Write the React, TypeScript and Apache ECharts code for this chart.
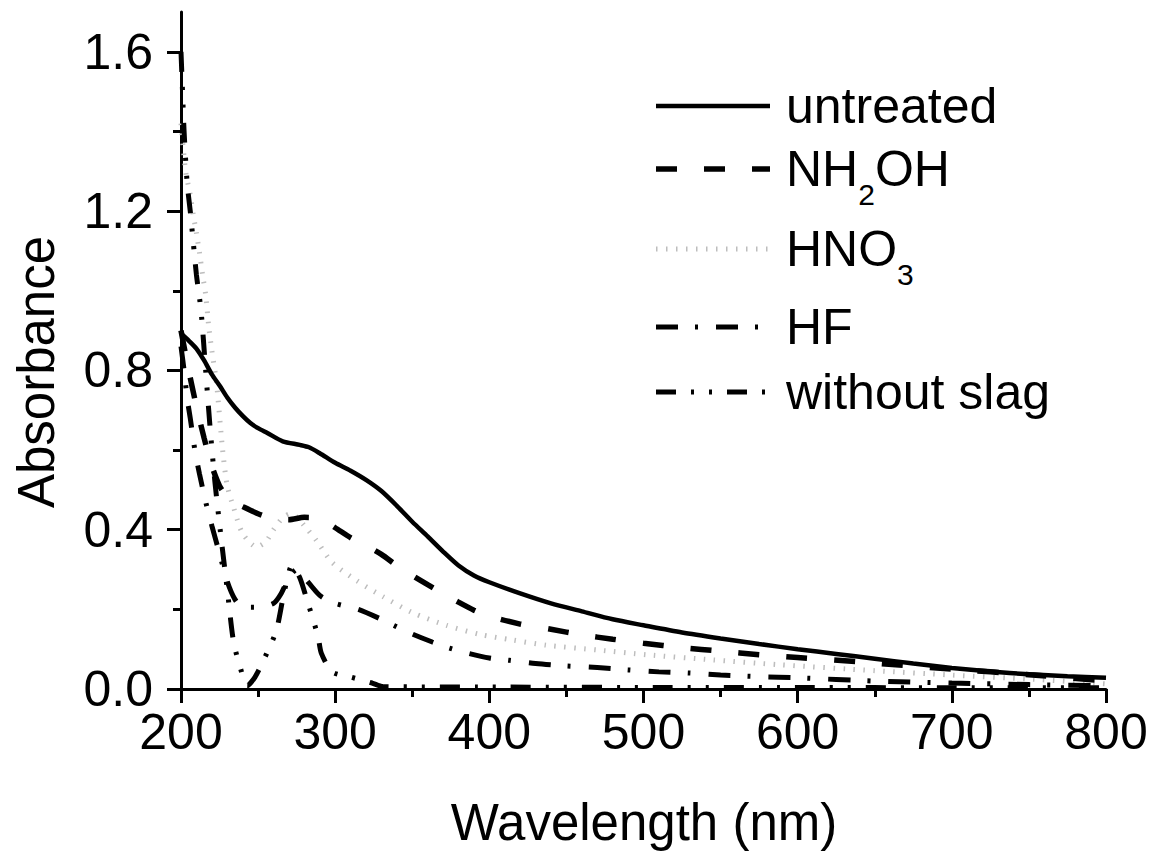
import React, { useEffect, useRef } from "react";
import * as echarts from "echarts";

// ---- data ----
const xTicks = [200, 300, 400, 500, 600, 700, 800];
const yTicks = [0, 0.4, 0.8, 1.2, 1.6];
const yMinorTicks = [0.2, 0.6, 1.0, 1.4];

const seriesNames = ["untreated", "NH2OH", "HNO3", "HF", "without slag"];

const untreatedX = [200, 205, 210, 215, 220, 225, 230, 235, 240, 245, 250, 256, 266, 277, 283, 290, 300, 310, 320, 330, 340, 350, 360, 370, 380, 390, 400, 420, 440, 460, 480, 500, 525, 550, 575, 600, 625, 650, 675, 700, 725, 750, 775, 800];
const untreatedY = [0.893, 0.875, 0.855, 0.825, 0.79, 0.762, 0.732, 0.707, 0.686, 0.668, 0.655, 0.643, 0.622, 0.613, 0.607, 0.592, 0.568, 0.548, 0.525, 0.497, 0.46, 0.42, 0.383, 0.345, 0.31, 0.285, 0.268, 0.24, 0.215, 0.195, 0.175, 0.16, 0.142, 0.127, 0.113, 0.1, 0.088, 0.076, 0.064, 0.053, 0.044, 0.037, 0.032, 0.028];

const nh2ohX = [200, 205, 210, 215, 220, 225, 230, 235, 240, 250, 260, 270, 280, 290, 300, 310, 320, 330, 340, 350, 360, 370, 380, 390, 400, 420, 440, 460, 480, 500, 525, 550, 575, 600, 640, 700, 750, 800];
const nh2ohY = [0.9, 0.8, 0.71, 0.63, 0.56, 0.51, 0.482, 0.468, 0.458, 0.44, 0.427, 0.425, 0.431, 0.428, 0.405, 0.38, 0.36, 0.338, 0.31, 0.285, 0.262, 0.24, 0.218, 0.198, 0.183, 0.163, 0.15, 0.136, 0.125, 0.115, 0.104, 0.095, 0.086, 0.079, 0.068, 0.05, 0.036, 0.02];

const hno3X = [200, 203, 206, 208, 210, 212, 214, 216, 218, 220, 223, 227, 230, 234, 240, 249, 255, 260, 266, 271, 275, 280, 288, 298, 314, 331, 350, 372, 394, 415, 437, 470, 502, 545, 588, 650, 700, 750, 800];
const hno3Y = [1.42, 1.3, 1.24, 1.19, 1.145, 1.095, 1.04, 0.99, 0.91, 0.85, 0.77, 0.6, 0.51, 0.457, 0.39, 0.357, 0.37, 0.4, 0.43, 0.44, 0.432, 0.41, 0.372, 0.318, 0.272, 0.232, 0.192, 0.16, 0.137, 0.123, 0.11, 0.098, 0.086, 0.073, 0.061, 0.046, 0.035, 0.025, 0.013];

const hfX = [200, 202, 204, 206, 209, 212, 216, 220, 225, 230, 235, 240, 250, 260, 265, 270, 275, 280, 290, 300, 315, 330, 340, 350, 363, 374, 386, 400, 413, 430, 450, 470, 490, 510, 530, 550, 575, 600, 650, 700, 750, 800];
const hfY = [0.86, 0.8, 0.73, 0.68, 0.6, 0.54, 0.47, 0.41, 0.34, 0.27, 0.225, 0.205, 0.205, 0.215, 0.24, 0.28, 0.3, 0.28, 0.235, 0.215, 0.2, 0.175, 0.156, 0.138, 0.118, 0.103, 0.09, 0.078, 0.072, 0.064, 0.058, 0.054, 0.048, 0.043, 0.04, 0.035, 0.031, 0.028, 0.02, 0.015, 0.011, 0.008];

const noSlagX = [200, 201, 202, 204, 206, 208, 210, 213, 216, 219, 222, 226, 230, 234, 238, 243, 248, 253, 258, 262, 267, 272, 277, 282, 286, 289, 291, 298, 310, 324, 331, 400, 500, 600, 700, 800];
const noSlagY = [1.6, 1.5, 1.4, 1.27, 1.2, 1.12, 1.04, 0.95, 0.8, 0.65, 0.52, 0.38, 0.25, 0.12, 0.06, 0.008, 0.03, 0.068, 0.11, 0.148, 0.244, 0.31, 0.28, 0.22, 0.17, 0.13, 0.09, 0.043, 0.03, 0.015, 0.006, 0.005, 0.004, 0.004, 0.003, 0.003];

// ---- styles ----
const FONT = "'Liberation Sans', Arial, Helvetica, sans-serif";

const lineStyles: any[] = [
  { color: "#000", width: 4.5, type: "solid" },
  { color: "#000", width: 5.5, type: [21, 27] },
  { color: "#bdbdbd", width: 5, type: [1.5, 8.5] },
  { color: "#000", width: 5, type: [22, 17, 3, 18] },
  { color: "#000", width: 5, type: [20, 15, 3, 15, 3, 15] },
];

const pairs = (xs: number[], ys: number[]) => xs.map((x, i) => [x, ys[i]]);

export default function App() {
  const ref = useRef<HTMLDivElement>(null);
  useEffect(() => {
    if (!ref.current) return;
    const chart = echarts.init(ref.current, undefined, { renderer: "svg" });
    const dataSets = [
      pairs(untreatedX, untreatedY),
      pairs(nh2ohX, nh2ohY),
      pairs(hno3X, hno3Y),
      pairs(hfX, hfY),
      pairs(noSlagX, noSlagY),
    ];
    const legendRows = [
      { y: 106, text: "untreated" },
      { y: 169, text: "NH{sub|2}OH" },
      { y: 249, text: "HNO{sub|3}" },
      { y: 327, text: "HF" },
      { y: 392, text: "without slag" },
    ];
    const legendGraphics: any[] = [];
    legendRows.forEach((r, i) => {
      const ls = lineStyles[i];
      legendGraphics.push({
        type: "line",
        shape: { x1: 656, y1: r.y, x2: 770, y2: r.y },
        style: {
          stroke: ls.color,
          lineWidth: ls.width,
          lineDash: ls.type === "solid" ? null : ls.type,
          lineCap: "butt",
        },
      });
      legendGraphics.push({
        type: "text",
        x: 786,
        y: r.y - 40,
        style: {
          text: r.text,
          fill: "#000",
          fontSize: 50,
          fontFamily: FONT,
          lineHeight: 80,
          verticalAlign: "top",
          rich: {
            sub: {
              fontSize: 30,
              fontFamily: FONT,
              lineHeight: 30,
              verticalAlign: "bottom",
              fill: "#000",
            },
          },
        },
      });
    });

    chart.setOption({
      animation: false,
      backgroundColor: "#fff",
      grid: { left: 181, right: 60, top: 12, bottom: 163, containLabel: false },
      xAxis: {
        type: "value",
        min: 200,
        max: 800,
        interval: 100,
        axisLine: { show: true, lineStyle: { color: "#000", width: 3 } },
        axisTick: { show: true, length: 14, lineStyle: { color: "#000", width: 3 } },
        minorTick: { show: true, splitNumber: 2, length: 8, lineStyle: { color: "#000", width: 3 } },
        splitLine: { show: false },
        minorSplitLine: { show: false },
        axisLabel: {
          color: "#000",
          fontSize: 50,
          fontFamily: FONT,
          margin: 18,
          customValues: xTicks,
        },
      },
      yAxis: [
        {
          type: "value",
          min: 0,
          max: 1.7,
          axisLine: { show: true, lineStyle: { color: "#000", width: 3 } },
          axisTick: { show: true, length: 14, customValues: yTicks, lineStyle: { color: "#000", width: 3 } },
          splitLine: { show: false },
          axisLabel: {
            color: "#000",
            fontSize: 50,
            fontFamily: FONT,
            margin: 28,
            customValues: yTicks,
            formatter: (v: number) => v.toFixed(1),
          },
        },
        {
          type: "value",
          min: 0,
          max: 1.7,
          position: "left",
          axisLine: { show: false },
          axisTick: { show: true, length: 8, customValues: yMinorTicks, lineStyle: { color: "#000", width: 3 } },
          splitLine: { show: false },
          axisLabel: { show: false },
        },
      ],
      series: dataSets.map((d, i) => ({
        name: seriesNames[i],
        type: "line",
        data: d,
        showSymbol: false,
        smooth: 0.25,
        clip: true,
        lineStyle: { ...lineStyles[i], cap: "butt" },
        z: i === 2 ? 1 : 2,
      })),
      graphic: [
        ...legendGraphics,
        {
          type: "text",
          x: 644,
          y: 822,
          style: {
            text: "Wavelength (nm)",
            fill: "#000",
            fontSize: 51,
            fontFamily: FONT,
            align: "center",
            verticalAlign: "middle",
          },
        },
        {
          type: "text",
          x: 36,
          y: 372,
          rotation: Math.PI / 2,
          style: {
            text: "Absorbance",
            fill: "#000",
            fontSize: 51,
            fontFamily: FONT,
            align: "center",
            verticalAlign: "middle",
          },
        },
      ],
    });
    return () => chart.dispose();
  }, []);
  return (
    <div
      ref={ref}
      style={{ position: "fixed", left: 0, top: 0, width: 1166, height: 852, background: "#fff" }}
    />
  );
}
